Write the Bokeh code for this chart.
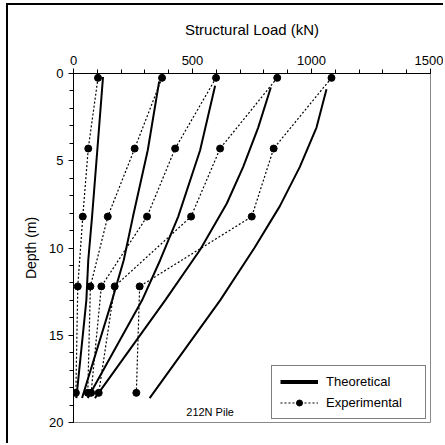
from bokeh.plotting import figure
from bokeh.models import (Range1d, FixedTicker, Legend, LegendItem, Label,
                          ColumnDataSource)
from bokeh.embed import file_html
from bokeh.resources import INLINE

FONT = "Liberation Sans"

# ---- data ----
x_major = [0, 500, 1000, 1500]
x_minor = list(range(0, 1501, 100))
y_major = [0, 5, 10, 15, 20]
y_minor = list(range(0, 21, 1))

exp_depth = [0.25, 4.3, 8.2, 12.2, 18.3]
exp_1 = [103, 62, 39, 18, 10]
exp_2 = [372, 257, 144, 71, 60]
exp_3 = [599, 427, 309, 117, 74]
exp_4 = [856, 616, 494, 173, 106]
exp_5 = [1084, 841, 749, 278, 264]

theo_1_depth = [0.2, 4.4, 8.2, 10.7, 13.0, 18.6]
theo_1 = [124, 100, 78, 62, 54, 12]
theo_2_depth = [0.45, 4.4, 8.2, 10.7, 13.0, 18.6]
theo_2 = [360, 312, 250, 211, 162, 36]
theo_3_depth = [0.7, 4.4, 8.2, 10.7, 13.0, 18.6]
theo_3 = [595, 532, 440, 364, 288, 60]
theo_4_depth = [0.8, 3.1, 5.35, 7.45, 10.1, 13.0, 18.6]
theo_4 = [829, 776, 713, 644, 532, 385, 90]
theo_5_depth = [0.9, 3.1, 5.35, 7.6, 10.0, 13.0, 18.6]
theo_5 = [1063, 1021, 951, 867, 760, 616, 320]

p = figure(width=437, height=440,
           x_range=Range1d(0, 1500), y_range=Range1d(20, 0),
           x_axis_location="above",
           output_backend="svg", toolbar_location=None,
           min_border_left=65, min_border_right=15,
           min_border_top=68, min_border_bottom=23)
p.margin = (3, 0, 0, 6)
p.styles = {"border-left": "2px solid black", "border-top": "2px solid black"}

p.xgrid.visible = False
p.ygrid.visible = False
p.outline_line_color = "#888888"
p.outline_line_width = 1
p.background_fill_color = "white"
p.border_fill_color = "white"

xa = p.xaxis[0]
xa.ticker = FixedTicker(ticks=x_major, minor_ticks=x_minor)
xa.axis_label = "Structural Load (kN)"
ya = p.yaxis[0]
ya.ticker = FixedTicker(ticks=y_major, minor_ticks=y_minor)
ya.axis_label = "Depth (m)"

for ax in (xa, ya):
    ax.axis_line_color = "black"
    ax.major_tick_line_color = "black"
    ax.minor_tick_line_color = "black"
    ax.major_tick_in = 0
    ax.major_tick_out = 5
    ax.minor_tick_in = 0
    ax.minor_tick_out = 4
    ax.major_label_text_font = FONT
    ax.major_label_text_font_size = "13px"
    ax.major_label_text_color = "black"
    ax.axis_label_text_font = FONT
    ax.axis_label_text_font_style = "normal"
    ax.axis_label_text_color = "black"

xa.major_label_standoff = 4
xa.axis_label_standoff = 15
xa.axis_label_text_font_size = "15px"
ya.major_label_standoff = 5
ya.axis_label_standoff = 7
ya.axis_label_text_font_size = "14px"

theo_series = [(theo_1, theo_1_depth), (theo_2, theo_2_depth),
               (theo_3, theo_3_depth), (theo_4, theo_4_depth),
               (theo_5, theo_5_depth)]
for xs, ys in theo_series:
    p.line(xs, ys, line_color="black", line_width=2)

exp_series = [exp_1, exp_2, exp_3, exp_4, exp_5]
exp_line_r = []
exp_dot_r = []
for xs in exp_series:
    lr = p.line(xs, exp_depth, line_color="black", line_width=1.2,
                line_dash="2 2")
    sr = p.scatter(xs, exp_depth, marker="circle", size=7,
                   fill_color="black", line_color="black")
    exp_line_r.append(lr)
    exp_dot_r.append(sr)

# legend-only thick line sample (no drawable points)
nan = float("nan")
legend_src = ColumnDataSource(data=dict(x=[nan, nan], y=[nan, nan]))
legend_line = p.line(x="x", y="y", source=legend_src,
                     line_color="black", line_width=4)

legend = Legend(items=[
    LegendItem(label="Theoretical", renderers=[legend_line]),
    LegendItem(label="Experimental", renderers=[exp_line_r[0], exp_dot_r[0]]),
], location=(198, 3))
legend.glyph_width = 38
legend.glyph_height = 15
legend.label_height = 15
legend.label_width = 91
legend.label_standoff = 8
legend.padding = 8
legend.spacing = 6
legend.margin = 0
legend.label_text_font = FONT
legend.label_text_font_size = "13px"
legend.label_text_color = "black"
legend.border_line_color = "black"
legend.border_line_width = 1
legend.background_fill_color = "white"
legend.background_fill_alpha = 1
p.add_layout(legend, "center")

p.add_layout(Label(x=574, y=19.4, text="212N Pile", text_font=FONT,
                   text_font_size="11px", text_align="center",
                   text_baseline="middle", text_color="black"))

open("out.html", "w").write(file_html(p, INLINE))
